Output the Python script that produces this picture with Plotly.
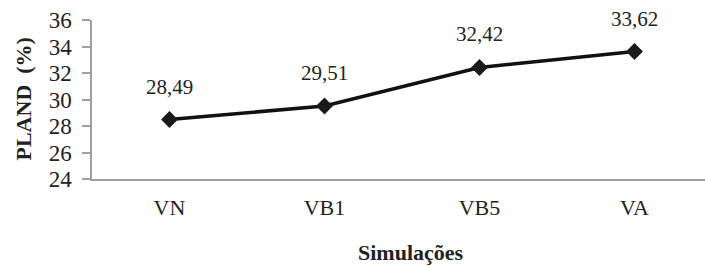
import plotly.graph_objects as go

categories = ["VN", "VB1", "VB5", "VA"]
pland = [28.49, 29.51, 32.42, 33.62]
labels = ["28,49", "29,51", "32,42", "33,62"]
y_ticks = [24, 26, 28, 30, 32, 34, 36]

SERIF = "Liberation Serif, Times New Roman, serif"

fig = go.Figure()
fig.add_trace(go.Scatter(
    x=categories, y=pland, mode="lines+markers",
    line=dict(color="#111111", width=3.6),
    marker=dict(symbol="diamond", size=13, color="#1a1a1a"),
    hoverinfo="skip", showlegend=False, cliponaxis=False,
))

annotations = []
for c, v, t in zip(categories, pland, labels):
    annotations.append(dict(
        x=c, y=v, xref="x", yref="y", text=t, showarrow=False,
        yanchor="bottom", yshift=19,
        font=dict(family=SERIF, size=21, color="#222222"),
    ))
annotations.append(dict(
    x=0.52, y=0, xref="paper", yref="paper", text="<b>Simulações</b>",
    showarrow=False, xanchor="center", yanchor="middle", yshift=-73,
    font=dict(family=SERIF, size=22, color="#222222"),
))
annotations.append(dict(
    x=0, y=0.5, xref="paper", yref="paper", text="<b>PLAND\u00a0 (%)</b>",
    showarrow=False, xanchor="center", yanchor="middle", xshift=-69,
    textangle=-90,
    font=dict(family=SERIF, size=22, color="#222222"),
))

fig.update_layout(
    width=705, height=266,
    margin=dict(l=92, r=0, t=20, b=87, autoexpand=False),
    paper_bgcolor="white", plot_bgcolor="white",
    annotations=annotations,
)
fig.update_xaxes(
    type="category", range=[-0.5, 3.455], automargin=False,
    showline=True, linecolor="#a0a0a0", linewidth=1.5,
    showgrid=False, zeroline=False, ticks="",
    ticklabelstandoff=8,
    tickfont=dict(family=SERIF, size=22, color="#222222"),
)
fig.update_yaxes(
    range=[24, 36], tickvals=y_ticks, automargin=False,
    ticktext=[str(v) for v in y_ticks],
    showline=True, linecolor="#a0a0a0", linewidth=1.5,
    showgrid=False, zeroline=False,
    ticks="outside", ticklen=8, tickcolor="#a0a0a0", tickwidth=1.5,
    ticklabelstandoff=6,
    tickfont=dict(family=SERIF, size=23, color="#222222"),
)

fig.write_html(
    "out.html",
    config={"displayModeBar": False},
    post_script="document.body.style.margin='0';document.body.style.padding='0';",
)
